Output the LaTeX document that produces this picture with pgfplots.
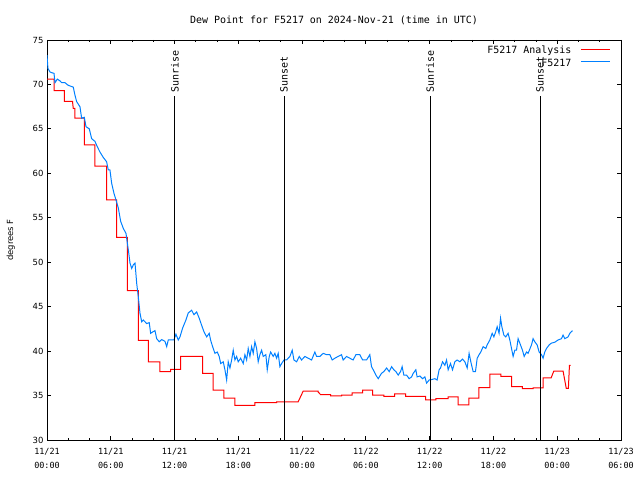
\documentclass[border=0pt]{standalone}
\usepackage{pgfplots}
\pgfplotsset{compat=1.18}
\usepackage{fontspec}
\setmainfont{DejaVu Sans Mono}
\newfontfamily\ysans{DejaVu Sans}
\definecolor{gpblue}{RGB}{0,128,255}
\definecolor{gpred}{RGB}{255,0,0}
\begin{document}
\begin{tikzpicture}
\path[use as bounding box] (0,0) rectangle (640bp,480bp);
\begin{axis}[
  at={(47bp,40bp)}, anchor=south west,
  scale only axis, width=574bp, height=400bp,
  xmin=0, xmax=54, ymin=30, ymax=75,
  xtick={0,6,12,18,24,30,36,42,48,54},
  xticklabels={{11/21\\00:00},{11/21\\06:00},{11/21\\12:00},{11/21\\18:00},{11/22\\00:00},{11/22\\06:00},{11/22\\12:00},{11/22\\18:00},{11/23\\00:00},{11/23\\06:00}},
  minor xtick={2,4,8,10,14,16,20,22,26,28,32,34,38,40,44,46,50,52},
  ytick={30,35,...,75},
  tick align=inside, tick pos=both,
  major tick length=4bp, minor tick length=2bp,
  axis line style={line width=0.8bp},
  every tick/.style={black, line width=0.8bp},
  /pgf/number format/assume math mode=true,
  xticklabel style={align=center, font=\fontsize{8.5}{14}\selectfont, yshift=-5bp},
  yticklabel style={font=\ysans\fontsize{8.5}{10}\selectfont},
  ylabel={degrees F},
  ylabel style={font=\ysans\fontsize{8.5}{10}\selectfont, at={(ticklabel cs:0.5)}, yshift=11bp},
  title={Dew Point for F5217 on 2024-Nov-21 (time in UTC)},
  title style={font=\fontsize{10}{12}\selectfont, yshift=6bp},
]
\addplot[draw=gpred, line width=1bp] coordinates {
(0,70.6) (0.66,70.6) (0.66,69.3) (1.63,69.3) (1.63,68.1) (2.40,68.1) (2.47,67.3) (2.63,67.3)
(2.63,66.2) (3.51,66.2) (3.51,63.2) (4.51,63.2) (4.51,60.8) (5.61,60.8) (5.61,57.0) (6.55,57.0)
(6.55,52.8) (7.55,52.8) (7.55,46.8) (8.59,46.8) (8.59,41.2) (9.53,41.2) (9.53,38.8) (10.63,38.8)
(10.63,37.7) (11.63,37.7) (11.63,37.95) (12.57,37.95) (12.57,39.4) (14.64,39.4) (14.64,37.5)
(15.64,37.5) (15.64,35.6) (16.64,35.6) (16.64,34.7) (17.68,34.7) (17.68,33.9) (19.56,33.9)
(19.56,34.2) (21.60,34.2) (21.60,34.3) (23.63,34.3) (24.10,35.5) (25.51,35.5) (25.51,35.4)
(25.74,35.1) (26.68,35.1) (26.68,34.95) (27.71,34.95) (27.71,35.06) (28.71,35.06) (28.71,35.3)
(29.69,35.3) (29.69,35.6) (30.63,35.6) (30.63,35.06) (31.69,35.06) (31.69,34.9) (32.70,34.9)
(32.70,35.2) (33.73,35.2) (33.73,34.9) (35.61,34.9) (35.61,34.5) (36.58,34.5) (36.58,34.65)
(37.74,34.65) (37.74,34.84) (38.68,34.84) (38.68,33.94) (39.69,33.94) (39.69,34.7) (40.63,34.7)
(40.63,35.9) (41.66,35.9) (41.66,37.4) (42.69,37.4) (42.69,37.16) (43.70,37.16) (43.70,36.0)
(44.73,36.0) (44.73,35.77) (45.73,35.77) (45.73,35.85) (46.67,35.85) (46.67,37.0) (47.43,37.0)
(47.68,37.76) (48.55,37.76) (48.85,35.8) (49.05,35.8) (49.15,38.4) (49.25,38.4)
};
\addplot[draw=gpblue, line width=1bp] coordinates {
(0.00,73.3) (0.09,71.8) (0.28,71.4) (0.50,71.3) (0.66,71.25) (0.75,70.2) (0.97,70.6) (1.22,70.4)
(1.38,70.2) (1.69,70.2) (2.00,69.9) (2.47,69.7) (2.63,68.8) (2.79,68.06) (3.10,67.5) (3.26,66.2)
(3.51,66.3) (3.67,65.25) (3.98,65.0) (4.20,63.9) (4.51,63.6) (4.73,63.0) (4.98,62.4) (5.29,61.8)
(5.61,61.3) (5.76,60.4) (5.92,60.4) (6.08,58.9) (6.30,57.75) (6.49,57.0) (6.71,56.1) (6.93,54.6)
(7.18,53.8) (7.43,53.25) (7.65,51.4) (7.81,49.9) (7.97,49.3) (8.12,49.7) (8.28,49.9) (8.44,47.6)
(8.59,46.1) (8.75,44.25) (8.91,43.3) (9.06,43.5) (9.38,43.1) (9.62,43.2) (9.75,42.0) (10.00,42.2)
(10.16,42.3) (10.32,41.4) (10.56,41.05) (10.79,41.3) (11.10,41.1) (11.26,40.5) (11.41,41.25)
(11.73,41.25) (11.94,41.25) (12.13,41.9) (12.35,41.25) (12.51,41.6) (12.76,42.6) (13.07,43.5)
(13.29,44.3) (13.61,44.6) (13.82,44.1) (14.08,44.4) (14.32,43.7) (14.55,42.9) (14.76,42.2)
(15.02,41.6) (15.26,42.0) (15.39,41.25) (15.58,40.5) (15.80,39.75) (16.02,39.9) (16.20,39.4)
(16.34,38.6) (16.58,38.8) (16.74,37.9) (16.90,36.75) (17.05,38.8) (17.21,38.1) (17.37,39.0)
(17.52,40.1) (17.68,39.0) (17.84,39.4) (17.99,38.8) (18.22,39.2) (18.46,38.6) (18.62,39.6)
(18.78,39.0) (18.93,40.3) (19.09,39.4) (19.25,40.5) (19.40,39.75) (19.56,41.05) (19.72,40.3)
(19.87,38.8) (20.03,39.6) (20.19,40.1) (20.34,39.4) (20.59,39.6) (20.72,37.9) (20.91,39.4)
(21.04,39.9) (21.28,39.4) (21.44,39.75) (21.60,39.2) (21.75,39.75) (21.91,38.25) (22.07,38.6)
(22.29,39.0) (22.54,39.0) (22.69,39.2) (22.85,39.4) (23.07,40.1) (23.23,39.0) (23.48,38.8)
(23.73,39.4) (23.95,39.0) (24.26,39.4) (24.57,39.2) (24.89,39.0) (25.20,39.9) (25.36,39.4)
(25.67,39.4) (25.98,39.75) (26.30,39.6) (26.61,39.6) (26.83,39.0) (27.08,39.2) (27.39,39.4)
(27.71,39.6) (27.86,39.0) (28.18,39.4) (28.49,39.2) (28.80,39.0) (29.06,39.6) (29.43,39.6)
(29.69,39.0) (30.06,39.0) (30.37,39.6) (30.53,38.25) (30.69,37.9) (30.94,37.3) (31.16,36.9)
(31.47,37.5) (31.69,37.7) (31.95,38.1) (32.19,37.7) (32.42,38.25) (32.63,37.9) (32.82,37.7)
(33.04,37.3) (33.26,37.7) (33.41,38.25) (33.57,37.3) (33.83,37.3) (34.07,36.9) (34.30,37.1)
(34.45,37.5) (34.70,37.9) (34.82,37.1) (35.08,37.2) (35.33,36.9) (35.55,37.1) (35.71,36.4)
(35.95,36.75) (36.18,36.8) (36.49,36.9) (36.70,36.75) (36.89,37.9) (37.02,38.1) (37.21,38.8)
(37.43,38.4) (37.59,39.0) (37.74,37.9) (37.96,38.6) (38.15,37.9) (38.37,38.8) (38.58,39.0)
(38.84,38.8) (39.09,39.1) (39.31,38.8) (39.53,38.1) (39.71,39.75) (39.87,38.8) (40.09,37.7)
(40.31,37.7) (40.47,39.2) (40.65,39.6) (40.81,39.9) (41.03,40.5) (41.28,40.3) (41.41,40.7)
(41.66,41.25) (41.88,42.0) (42.04,41.6) (42.22,42.2) (42.35,42.75) (42.53,42.0) (42.67,43.7)
(42.79,42.75) (42.98,41.8) (43.16,41.6) (43.38,42.0) (43.54,41.25) (43.70,40.3) (43.85,39.4)
(44.01,40.1) (44.17,40.1) (44.32,41.4) (44.48,40.9) (44.73,40.1) (44.89,39.4) (45.11,39.9)
(45.26,39.75) (45.58,40.7) (45.73,41.4) (45.89,41.05) (46.11,40.7) (46.30,39.9) (46.52,39.6)
(46.67,39.2) (46.83,39.9) (46.99,40.3) (47.24,40.7) (47.46,40.9) (47.77,41.0) (48.08,41.25)
(48.40,41.4) (48.55,41.8) (48.71,41.4) (49.02,41.6) (49.18,42.0) (49.34,42.2) (49.44,42.3)
};
\addplot[black, line width=1bp] coordinates {(12.04,30) (12.04,68.7)};
\addplot[black, line width=1bp] coordinates {(22.30,30) (22.30,68.7)};
\addplot[black, line width=1bp] coordinates {(36.04,30) (36.04,68.7)};
\addplot[black, line width=1bp] coordinates {(46.38,30) (46.38,68.7)};
\node[rotate=90, anchor=west, inner sep=1bp, font=\fontsize{10}{12}\selectfont] at (axis cs:12.04,69.0) {Sunrise};
\node[rotate=90, anchor=west, inner sep=1bp, font=\fontsize{10}{12}\selectfont] at (axis cs:22.30,69.0) {Sunset};
\node[rotate=90, anchor=west, inner sep=1bp, font=\fontsize{10}{12}\selectfont] at (axis cs:36.04,69.0) {Sunrise};
\node[rotate=90, anchor=west, inner sep=1bp, font=\fontsize{10}{12}\selectfont] at (axis cs:46.38,69.0) {Sunset};
% legend
\node[anchor=east, inner sep=0pt, font=\fontsize{10}{12}\selectfont] at (axis cs:49.35,73.75) {F5217 Analysis};
\node[anchor=east, inner sep=0pt, font=\fontsize{10}{12}\selectfont] at (axis cs:49.35,72.4) {F5217};
\addplot[draw=gpred, line width=1bp] coordinates {(50.22,73.875) (52.94,73.875)};
\addplot[draw=gpblue, line width=1bp] coordinates {(50.22,72.525) (52.94,72.525)};
\end{axis}
\end{tikzpicture}
\end{document}
